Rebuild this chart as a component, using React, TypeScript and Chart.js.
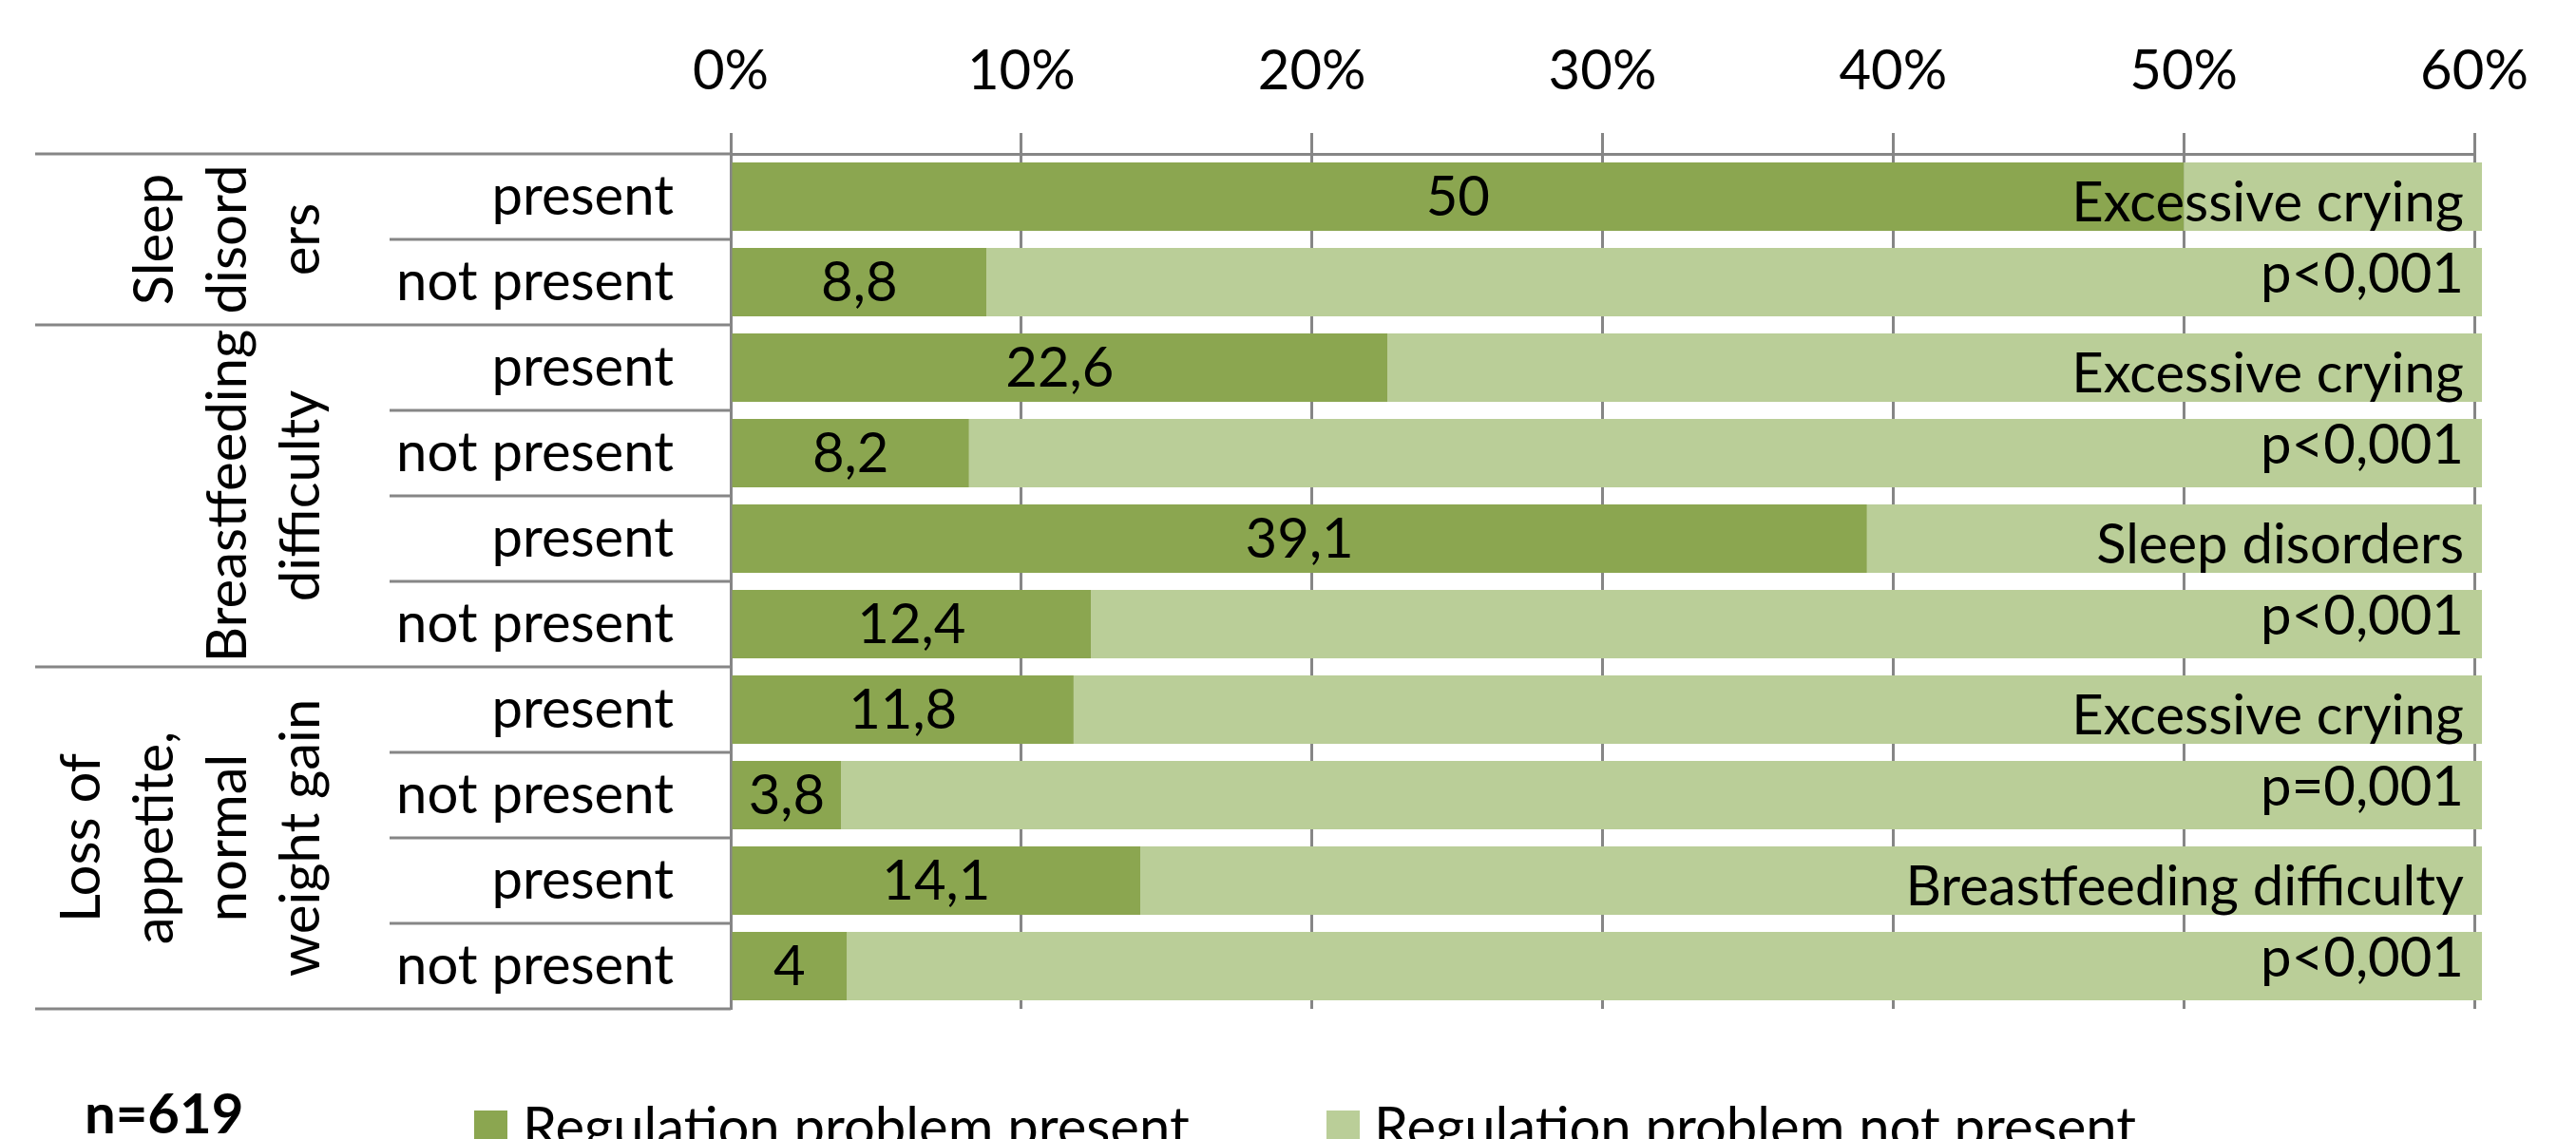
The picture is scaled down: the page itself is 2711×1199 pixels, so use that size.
import React, { useEffect, useRef } from 'react';
import { Chart, registerables } from 'chart.js';

Chart.register(...registerables);

// ---------- data ----------
const rowLabels = ['present', 'not present', 'present', 'not present', 'present', 'not present', 'present', 'not present', 'present', 'not present'];
const problemPresent = [50, 8.8, 22.6, 8.2, 39.1, 12.4, 11.8, 3.8, 14.1, 4];
const problemNotPresent = [50, 91.2, 77.4, 91.8, 60.9, 87.6, 88.2, 96.2, 85.9, 96];
const groupLabels = [['Sleep', 'disord', 'ers'], ['Breastfeeding', 'difficulty'], ['Loss of', 'appetite,', 'normal', 'weight gain']];
const groupSizes = [2, 4, 4];
const comparedWith = ['Excessive crying', 'Excessive crying', 'Sleep disorders', 'Excessive crying', 'Breastfeeding difficulty'];
const pValues = ['p<0,001', 'p<0,001', 'p<0,001', 'p=0,001', 'p<0,001'];
const xTicks = [0, 10, 20, 30, 40, 50, 60];
const seriesNames = ['Regulation problem present', 'Regulation problem not present'];
const sampleNote = 'n=619';

// ---------- styles ----------
const FONT = 'Lato, "Open Sans", "Liberation Sans", sans-serif';
const DARK = '#8BA650';
const LIGHT = '#BACE98';
const GRID = '#868686';
const FS = 58;

const fmt = (v: number) => String(v).replace('.', ',');

const tablePlugin = {
  id: 'tablePlugin',
  afterDatasetsDraw(chart: any) {
    const ctx = chart.ctx;
    const xs = chart.scales.x;
    const meta = chart.getDatasetMeta(0);
    ctx.save();
    ctx.fillStyle = '#000';
    ctx.font = `${FS}px ${FONT}`;
    ctx.textAlign = 'center';
    ctx.textBaseline = 'alphabetic';
    meta.data.forEach((bar: any, i: number) => {
      const cx = (bar.x + bar.base) / 2;
      ctx.fillText(fmt(problemPresent[i]), cx, bar.y + 20);
    });
    // annotations
    ctx.textAlign = 'right';
    const rx = xs.getPixelForValue(60) - 11;
    comparedWith.forEach((txt, k) => {
      const a = meta.data[2 * k];
      const b = meta.data[2 * k + 1];
      const by = (a.y + b.y) / 2;
      ctx.fillText(txt, rx, by - 19);
      ctx.fillText(pValues[k], rx, by + 56);
    });
    ctx.restore();
  },
  afterDraw(chart: any) {
    const ctx = chart.ctx;
    const ys = chart.scales.y;
    const ca = chart.chartArea;
    const step = ys.getPixelForValue(1) - ys.getPixelForValue(0);
    const boundary = (i: number) => ys.getPixelForValue(0) - step / 2 + i * step;
    ctx.save();
    // table lines in label area
    const groupBounds = new Set<number>([0]);
    let acc = 0;
    groupSizes.forEach((s) => { acc += s; groupBounds.add(acc); });
    ctx.strokeStyle = GRID;
    ctx.lineWidth = 3;
    for (let i = 0; i <= rowLabels.length; i++) {
      const yy = Math.round(boundary(i));
      const x0 = groupBounds.has(i) ? 37 : 410;
      ctx.beginPath();
      ctx.moveTo(x0, yy);
      ctx.lineTo(ca.left, yy);
      ctx.stroke();
    }
    // group labels (rotated)
    ctx.fillStyle = '#000';
    ctx.font = `${FS}px ${FONT}`;
    ctx.textAlign = 'center';
    ctx.textBaseline = 'alphabetic';
    let start = 0;
    groupLabels.forEach((lines, g) => {
      const end = start + groupSizes[g];
      const cy = (boundary(start) + boundary(end)) / 2;
      lines.forEach((ln, j) => {
        const bx = 336 - (lines.length - 1 - j) * 77;
        ctx.save();
        ctx.translate(bx, cy);
        ctx.rotate(-Math.PI / 2);
        ctx.fillText(ln, 0, 0);
        ctx.restore();
      });
      start = end;
    });
    // legend
    const items = [{ bx: 499, tx: 550 }, { bx: 1396, tx: 1446 }];
    ctx.textAlign = 'left';
    chart.data.datasets.forEach((ds: any, i: number) => {
      ctx.fillStyle = ds.backgroundColor;
      ctx.fillRect(items[i].bx, 1169, 35, 35);
      ctx.fillStyle = '#000';
      ctx.fillText(ds.label, items[i].tx, 1207);
    });
    // sample size
    ctx.font = `bold ${FS}px ${FONT}`;
    ctx.fillText(sampleNote, 89, 1193);
    ctx.restore();
  },
};

export default function App() {
  const ref = useRef<HTMLCanvasElement | null>(null);
  useEffect(() => {
    if (!ref.current) return;
    Chart.defaults.font.family = FONT;
    const chart = new Chart(ref.current, {
      type: 'bar',
      data: {
        labels: rowLabels,
        datasets: [
          { label: seriesNames[0], data: problemPresent, backgroundColor: DARK, borderWidth: 0, clip: { left: 0, top: 0, right: 8, bottom: 0 } as any },
          { label: seriesNames[1], data: problemNotPresent, backgroundColor: LIGHT, borderWidth: 0, clip: { left: 0, top: 0, right: 8, bottom: 0 } as any },
        ],
      },
      options: {
        indexAxis: 'y',
        animation: false,
        responsive: false,
        events: [],
        layout: { padding: { left: 0, top: 0, right: 107, bottom: 137 } },
        datasets: { bar: { categoryPercentage: 1, barPercentage: 0.8 } },
        plugins: { legend: { display: false }, tooltip: { enabled: false }, title: { display: false } },
        scales: {
          x: {
            type: 'linear',
            position: 'top',
            stacked: true,
            min: 0,
            max: 60,
            afterBuildTicks: (s: any) => { s.ticks = xTicks.map((v) => ({ value: v })); },
            afterFit: (s: any) => { s.height = 162; },
            ticks: { callback: (v: any) => v + '%', font: { size: FS }, color: '#000', padding: 30, maxRotation: 0, autoSkip: false },
            grid: { color: GRID, lineWidth: 3, tickLength: 22, drawTicks: true },
            border: { display: true, color: GRID, width: 3 },
          },
          y: {
            type: 'category',
            stacked: true,
            afterFit: (s: any) => { s.width = 769; },
            ticks: { font: { size: FS }, color: '#000', padding: 60, autoSkip: false },
            grid: { display: false, drawTicks: false },
            border: { display: true, color: GRID, width: 3 },
          },
        },
      } as any,
      plugins: [tablePlugin],
    });
    return () => chart.destroy();
  }, []);
  return (
    <div style={{ position: 'fixed', left: 0, top: 0, width: 2711, height: 1199, background: '#fff' }}>
      <canvas ref={ref} width={2711} height={1199} style={{ display: 'block' }} />
    </div>
  );
}
